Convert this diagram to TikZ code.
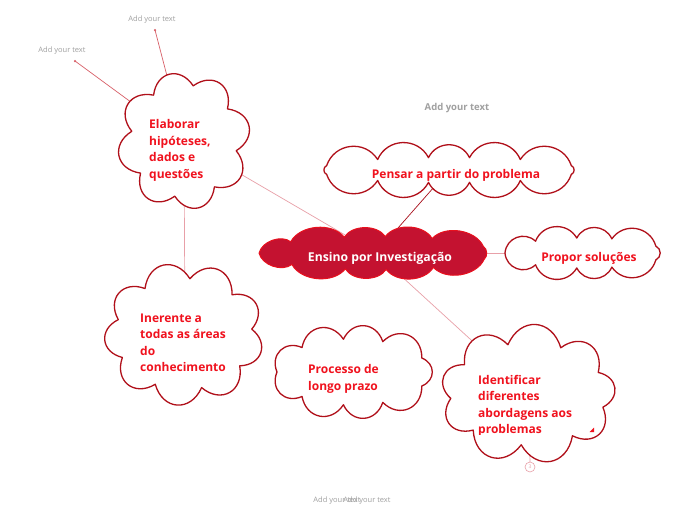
\documentclass[tikz,border=0pt]{standalone}
\usepackage{fontspec}
\setmainfont{Open Sans}
\definecolor{cborder}{HTML}{B0101A}
\definecolor{ctext}{HTML}{F0121E}
\definecolor{cfill}{HTML}{C41230}
\definecolor{cedge}{HTML}{E8101E}
\definecolor{lpink}{HTML}{E8A0A8}
\definecolor{ldark}{HTML}{A8101C}
\definecolor{lred}{HTML}{D86068}
\definecolor{gtext}{HTML}{A0A0A0}
\tikzset{
  cloudline/.style={draw=cborder, line width=1.3pt, fill=white, line join=round},
  centralline/.style={draw=cedge, line width=1pt, fill=cfill, line join=round},
  txt/.style={text=ctext, font=\bfseries\fontsize{12}{16.5}\selectfont, inner sep=0pt, align=left},
  ctxt/.style={text=white, font=\bfseries\fontsize{12.2}{16.5}\selectfont, inner sep=0pt},
  addtxt/.style={text=gtext, font=\fontsize{7.5}{9}\selectfont, inner sep=0pt},
  conn/.style={line width=0.7pt},
  dotend/.style={circle, fill=lred, inner sep=0pt, minimum size=2.5pt},
}
% cloud outline: centre (\ccx,\ccy), radii \crx,\cry, \cn puffs, spacing \cc (deg), bulge \ch, phase \cph
\newcommand{\cloudset}[8]{\def\ccx{#1}\def\ccy{#2}\def\crx{#3}\def\cry{#4}\def\cn{#5}\def\cc{#6}\def\ch{#7}\def\cph{#8}}
\newcommand{\cloudpath}[1]{%
 \path[#1] ({\ccx+\crx*cos(\cph+\cc*sin(2*\cph))},{\ccy+\cry*sin(\cph+\cc*sin(2*\cph))})
 \foreach \i [evaluate=\i as \ua using {\cph+(\i-1)*360/\cn},
              evaluate=\i as \ub using {\cph+\i*360/\cn},
              evaluate=\i as \ta using {\ua+\cc*sin(2*\ua)},
              evaluate=\i as \tb using {\ub+\cc*sin(2*\ub)},
              evaluate=\i as \ax using {\ccx+\crx*cos(\ta)},
              evaluate=\i as \ay using {\ccy+\cry*sin(\ta)},
              evaluate=\i as \bx using {\ccx+\crx*cos(\tb)},
              evaluate=\i as \by using {\ccy+\cry*sin(\tb)},
              evaluate=\i as \dx using {\bx-\ax},
              evaluate=\i as \dy using {\by-\ay}]
   in {1,...,\cn} { .. controls ({\ax+0.2*\dx+\ch*\dy},{\ay+0.2*\dy-\ch*\dx}) and ({\ax+0.8*\dx+\ch*\dy},{\ay+0.8*\dy-\ch*\dx}) .. (\bx,\by) } -- cycle;
}
\begin{document}
\begin{tikzpicture}[x=1pt,y=-1pt]
\useasboundingbox[fill=white] (0,0) rectangle (696,520);

% centres
\coordinate (elab) at (184,141);
\coordinate (pensar) at (449,170);
\coordinate (ensino) at (376,253);
\coordinate (propor) at (585,253);
\coordinate (inerente) at (185,334);
\coordinate (processo) at (353,372);
\coordinate (ident) at (528,392);
\coordinate (a1) at (155,30);
\coordinate (a2) at (75,61);
\coordinate (b1) at (530,462);

% connectors (under clouds)
\draw[conn, lred] (a1) -- (elab);
\draw[conn, lred] (a2) -- (elab);
\node[dotend] (d1) at (a1) {};
\node[dotend] (d2) at (a2) {};
\draw[conn, lpink] (elab) -- (ensino);
\draw[conn, lpink] (elab) -- (inerente);
\draw[conn, ldark] (pensar) -- (ensino);
\draw[conn, lpink] (ensino) -- (propor);
\draw[conn, lpink] (ensino) -- (ident);
\draw[conn, lpink] (ident) -- (b1);

% clouds
\cloudset{184}{141}{53}{56}{8}{0}{0.55}{100}\cloudpath{cloudline}
\cloudset{449}{170}{131}{12.5}{12}{12}{0.42}{15}\cloudpath{cloudline}
\cloudset{184}{334}{68}{55.5}{9}{0}{0.55}{75}\cloudpath{cloudline}
\cloudset{353}{372}{76}{33}{9}{8}{0.5}{20}\cloudpath{cloudline}
\cloudset{528}{394}{77.5}{51}{9}{0}{0.55}{95}\cloudpath{cloudline}
\cloudset{585}{253}{80}{15}{9}{12}{0.42}{20}\cloudpath{cloudline}
\cloudset{376}{253}{117}{16.5}{11}{12}{0.3}{16}\cloudpath{centralline}

% texts
\node[txt, anchor=north west] (elabt) at (149,119.5) {Elaborar\\hipóteses,\\dados e\\questões};
\node[txt] (pensart) at (456,175) {Pensar a partir do problema};
\node[ctxt] (ensinot) at (380,258) {Ensino por Investigação};
\node[txt] (propert) at (589,258) {Propor soluções};
\node[txt, anchor=north west] (inerentet) at (140,313.5) {Inerente a\\todas as áreas\\do\\conhecimento};
\node[txt, anchor=north west] (processot) at (308,364.5) {Processo de\\longo prazo};
\begin{scope}
\clip (440,360) rectangle (610,434.5);
\node[txt, anchor=north west] (identt) at (478,375) {Identificar\\diferentes\\abordagens aos\\problemas};
\end{scope}
\fill[ctext] (589.5,432) -- (594,432) -- (594,427.5) -- cycle;
\node[circle, draw=lpink, fill=white, line width=0.6pt, minimum size=10pt, inner sep=0pt, text=lpink, font=\fontsize{5}{5}\selectfont] (badge) at (530,467) {3};

% add your text labels
\node[addtxt] (l1) at (152,20) {Add your text};
\node[addtxt] (l2) at (62,51) {Add your text};
\node[text=gtext, font=\bfseries\fontsize{9.5}{11}\selectfont, inner sep=0pt] (l3) at (457,108) {Add your text};
\node[addtxt] (l4) at (337,501) {Add your text};
\node[addtxt] (l5) at (367,501) {Add your text};
\end{tikzpicture}
\end{document}
